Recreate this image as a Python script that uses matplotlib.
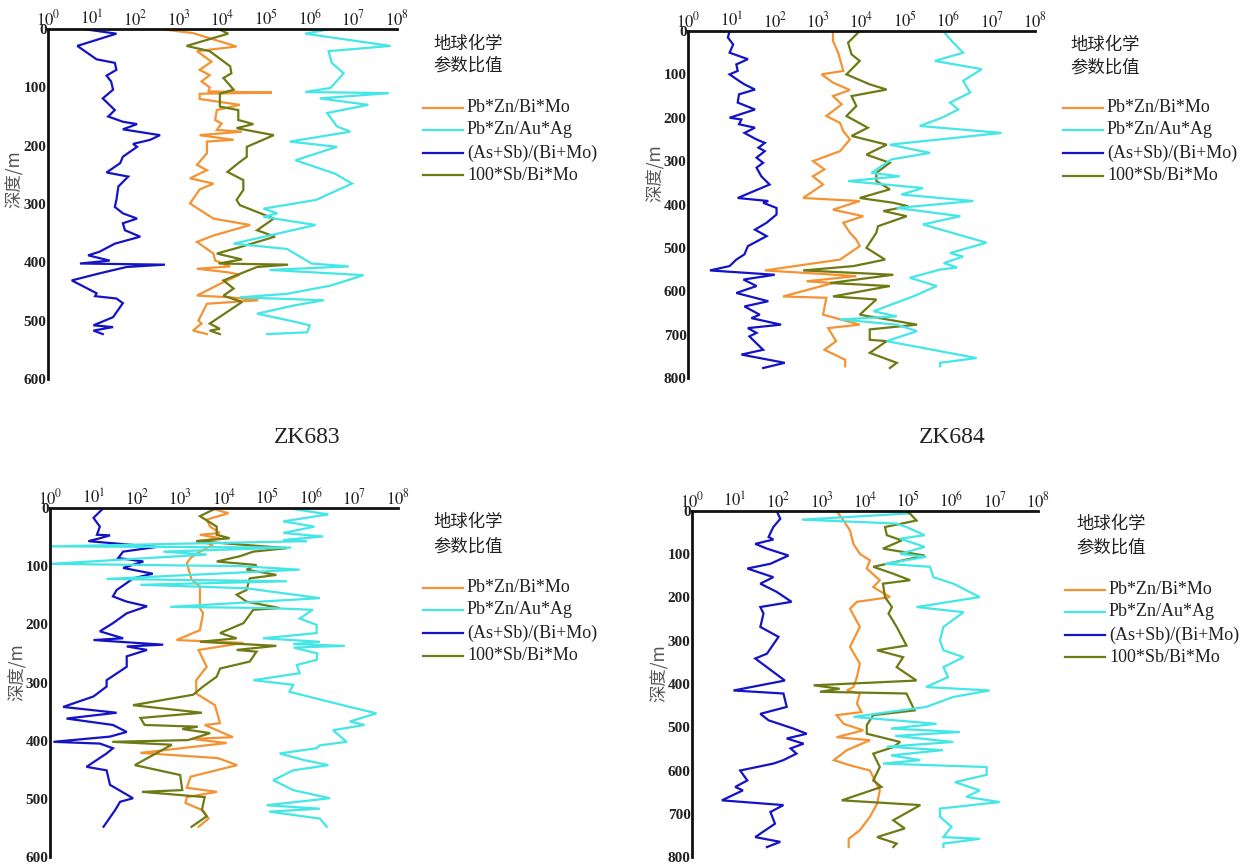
import matplotlib
matplotlib.use("Agg")
import matplotlib.pyplot as plt
from matplotlib.lines import Line2D
from matplotlib.ticker import FixedLocator, NullLocator

plt.rcParams['font.family'] = ['Liberation Serif', 'Noto Sans CJK SC', 'DejaVu Sans']
plt.rcParams['mathtext.fontset'] = 'stix'

# ---------------- data ----------------
series_names = ["Pb*Zn/Bi*Mo", "Pb*Zn/Au*Ag", "(As+Sb)/(Bi+Mo)", "100*Sb/Bi*Mo"]
legend_title = "地球化学\n参数比值"
y_label = "深度/m"
panel_titles = ["", "", "ZK683", "ZK684"]
x_tick_values = [1e0, 1e1, 1e2, 1e3, 1e4, 1e5, 1e6, 1e7, 1e8]
x_tick_labels = [r"$10^{0}$", r"$10^{1}$", r"$10^{2}$", r"$10^{3}$", r"$10^{4}$",
                 r"$10^{5}$", r"$10^{6}$", r"$10^{7}$", r"$10^{8}$"]
y_ticks_600 = [0, 100, 200, 300, 400, 500, 600]
y_ticks_800 = [0, 100, 200, 300, 400, 500, 600, 700, 800]

# ---- top-left panel ----
tl_blue_depth = [0, 8, 29, 52, 58, 70, 80, 90, 104, 119, 139, 150, 159, 163, 172, 182, 190, 197, 202, 219,
                 230, 246, 253, 270, 293, 305, 316, 325, 333, 345, 356, 368, 382, 388, 397, 402, 404, 408,
                 419, 431, 453, 458, 462, 470, 494, 508, 511, 517, 523]
tl_blue_val = [6.3, 37, 4.7, 13, 34, 37, 22, 28, 31, 18, 34, 24, 52, 110, 52, 370, 220, 89, 110, 52,
               45, 22, 69, 41, 37, 34, 52, 110, 52, 58, 130, 34, 15, 8.3, 26, 5.4, 480, 63,
               15, 3.5, 13, 12, 37, 52, 31, 11, 31, 11, 18]
tl_orange_depth = [0, 7, 30, 38, 56, 70, 79, 90, 100, 107, 109, 111, 120, 130, 139, 156, 162, 173, 176, 182,
                   190, 193, 213, 233, 242, 256, 265, 275, 299, 310, 325, 336, 354, 365, 385, 397, 407, 411,
                   417, 421, 437, 457, 460, 465, 471, 500, 505, 517, 523]
tl_orange_val = [370, 2100, 21000, 2600, 5600, 3000, 5100, 3300, 5100, 4800, 135000, 3000, 3000, 25000, 7400,
                 6800, 9500, 7400, 28000, 3000, 18000, 4400, 4400, 2600, 4400, 1800, 6200, 3000, 1800, 3000,
                 6200, 43000, 6200, 2600, 6200, 6800, 15000, 2600, 13000, 25000, 8700, 2600, 15000, 66000,
                 4400, 2800, 3300, 2100, 4400]
tl_olive_depth = [0, 8, 29, 38, 64, 76, 84, 104, 111, 133, 139, 156, 163, 170, 182, 202, 219, 230, 245, 259,
                  276, 293, 302, 325, 345, 356, 374, 385, 395, 402, 404, 408, 431, 445, 457, 468, 505, 514,
                  517, 523]
tl_olive_val = [8000, 13500, 1500, 5100, 15000, 16000, 10500, 18000, 8700, 8700, 23000, 23000, 51000, 21000,
                150000, 36000, 36000, 23000, 13000, 30000, 30000, 21000, 25000, 150000, 62000, 160000,
                25000, 7400, 28000, 8100, 320000, 62000, 10500, 18000, 10500, 28000, 5100, 8700, 5100, 8700]
tl_cyan_depth = [0, 8, 29, 38, 58, 76, 101, 108, 110, 119, 130, 144, 167, 176, 193, 202, 225, 248, 265, 293,
                 308, 316, 322, 336, 368, 377, 402, 407, 413, 422, 440, 454, 460, 465, 474, 488, 500, 508,
                 520, 523]
tl_cyan_val = [3.0e6, 7.9e5, 7.1e7, 2.7e6, 3.2e6, 6.0e6, 3.0e6, 7.9e5, 6.5e7, 1.7e6, 2.2e7, 2.5e6, 4.2e6,
               8.5e6, 3.5e5, 4.2e6, 4.7e5, 3.8e6, 9.3e6, 1.4e6, 8.7e4, 1.8e5, 8.7e4, 1.35e6, 1.8e4, 3.0e5,
               1.1e6, 7.8e6, 1.2e5, 1.7e7, 3.0e6, 3.0e5, 2.5e4, 2.1e6, 4.3e5, 6.2e4, 3.5e5, 1.0e6, 8.7e5,
               1.05e5]

# ---- top-right panel ----
tr_blue_depth = [0, 15, 31, 50, 65, 77, 92, 100, 115, 123, 135, 146, 165, 181, 200, 204, 215, 223, 235, 250,
                 258, 269, 277, 292, 304, 315, 335, 354, 385, 392, 396, 408, 423, 442, 458, 473, 496, 515,
                 527, 542, 552, 562, 573, 588, 604, 623, 635, 654, 662, 677, 685, 696, 704, 735, 746, 765,
                 777]
tr_blue_val = [9.1, 8.3, 11, 9.1, 24, 13, 14, 9.1, 15, 20, 35, 15, 14, 35, 9.1, 17, 15, 35, 20, 38,
               59, 42, 59, 38, 54, 38, 49, 76, 14, 71, 54, 110, 110, 65, 35, 65, 24, 20,
               13, 9.1, 3.2, 100, 19, 38, 13, 71, 20, 45, 29, 140, 24, 38, 26, 54, 17, 170, 54]
tr_orange_depth = [0, 23, 50, 92, 100, 119, 136, 150, 169, 196, 212, 231, 250, 277, 300, 319, 335, 354, 385,
                   392, 412, 427, 442, 465, 481, 496, 527, 552, 565, 577, 581, 612, 615, 654, 677, 685,
                   715, 735, 758, 773]
tr_orange_val = [2200, 2200, 2900, 3800, 1200, 2200, 5400, 2200, 3500, 1550, 3200, 3800, 5400, 3200, 760,
                 1400, 760, 1300, 450, 9100, 2200, 11000, 3800, 5400, 7600, 9100, 3200, 59, 7600, 540,
                 2200, 155, 1550, 1300, 9100, 1700, 2600, 1400, 4200, 4200]
tr_olive_depth = [0, 27, 54, 69, 100, 123, 135, 150, 173, 196, 223, 242, 262, 285, 304, 327, 346, 365, 385,
                  396, 404, 415, 427, 450, 465, 500, 527, 542, 552, 562, 581, 588, 612, 619, 654, 677, 688,
                  712, 715, 742, 765, 777]
tr_olive_val = [9100, 4900, 5900, 9100, 4500, 15500, 38000, 5900, 7600, 4500, 14000, 5900, 38000, 13000,
                45000, 22000, 22000, 45000, 9100, 54000, 120000, 32000, 110000, 24000, 22000, 13000, 35000,
                6500, 450, 54000, 1900, 45000, 2200, 22000, 9100, 190000, 15500, 15500, 38000, 15500, 65000,
                45000]
tr_cyan_depth = [0, 23, 50, 69, 88, 115, 142, 165, 181, 200, 219, 235, 262, 281, 296, 327, 335, 346, 362,
                 377, 392, 408, 427, 446, 488, 512, 520, 535, 545, 550, 569, 588, 612, 646, 658, 665, 677,
                 692, 715, 754, 765, 773]
tr_cyan_val = [7.6e5, 1.2e6, 2.2e6, 4.9e5, 5.9e6, 2.2e6, 3.2e6, 1.1e6, 1.7e6, 7.1e5, 2.2e5, 1.7e7, 4.5e4,
               3.8e5, 4.9e4, 1.7e4, 7.6e4, 4900, 2.6e5, 8.3e4, 3.8e6, 6.5e4, 1.9e6, 2.6e5, 7.6e6, 1.1e6,
               2.2e6, 7.9e5, 1.6e6, 6.5e5, 1.3e5, 5.4e5, 1.55e5, 1.9e4, 6.5e4, 3200, 6.5e4, 1.9e5, 3.8e4,
               4.5e6, 6.5e5, 6.5e5]

# ---- bottom-left panel (ZK683) ----
bl_blue_depth = [0, 17, 32, 46, 47, 52, 57, 67, 75, 86, 92, 103, 113, 121, 129, 141, 152, 161, 169, 181,
                 198, 212, 224, 227, 235, 238, 244, 255, 273, 296, 307, 324, 342, 352, 362, 373, 385, 393,
                 402, 405, 413, 422, 445, 451, 476, 499, 505, 520, 548]
bl_blue_val = [17, 10, 14, 12, 24, 14, 7.6, 280, 48, 37, 140, 48, 230, 81, 58, 34, 28, 58, 170, 58,
               28, 14, 48, 10, 400, 58, 170, 58, 58, 20, 20, 10, 2.0, 34, 2.4, 28, 58, 24,
               1.2, 14, 28, 20, 6.9, 20, 24, 81, 41, 31, 17]
bl_orange_depth = [0, 9, 20, 32, 43, 46, 52, 57, 63, 75, 86, 95, 123, 135, 172, 181, 210, 227, 232, 244,
                   273, 296, 319, 339, 370, 373, 394, 397, 404, 421, 430, 442, 462, 481, 488, 497, 507,
                   520, 534, 548]
bl_orange_val = [4800, 12600, 4000, 4800, 8100, 2800, 8100, 2300, 5600, 2800, 1700, 1400, 1800, 2800, 2800,
                 3300, 2800, 810, 28000, 2600, 4000, 2300, 2300, 6200, 8100, 3600, 16000, 1800, 11500,
                 120, 7200, 20000, 1700, 1400, 6900, 1400, 1300, 3300, 4400, 2600]
bl_olive_depth = [3, 14, 32, 46, 52, 57, 69, 75, 83, 92, 98, 106, 115, 121, 141, 149, 161, 172, 175, 198,
                  215, 224, 230, 237, 244, 247, 264, 276, 290, 307, 321, 339, 352, 361, 373, 376, 380, 387,
                  399, 402, 407, 442, 459, 485, 488, 497, 519, 530, 548]
bl_olive_val = [5600, 2800, 6800, 6800, 13500, 2300, 280000, 47000, 23000, 6800, 56000, 33000, 160000,
                39000, 33000, 19500, 33000, 190000, 47000, 28000, 8100, 19500, 2800, 160000, 19500, 56000,
                39000, 8100, 6800, 3300, 1950, 81, 3100, 120, 150, 2500, 1100, 4800, 1500, 27, 630, 89,
                980, 1100, 130, 3600, 3100, 4000, 1800]
bl_cyan_depth = [0, 11, 23, 32, 43, 49, 55, 57, 66, 68, 75, 80, 96, 100, 106, 122, 126, 132, 138, 155, 170,
                 172, 175, 190, 201, 215, 224, 230, 234, 237, 240, 250, 261, 270, 284, 296, 304, 316, 342,
                 353, 367, 373, 382, 402, 408, 413, 422, 433, 442, 451, 468, 485, 499, 511, 517, 522, 534,
                 548]
bl_cyan_val = [2.8e5, 2.5e6, 2.3e5, 1.2e6, 2.3e5, 1.9e6, 2.3e5, 7.9e5, 1.1, 3.5e5, 400, 4000, 1.07, 2.5e4,
               5.5e5, 20, 2.8e5, 120, 3.3e4, 1.6e6, 580, 1.1e5, 1.1e6, 5.5e5, 1.35e6, 1.35e6, 7.9e4, 1.6e6,
               3.9e5, 6.0e6, 4.0e5, 1.4e6, 1.35e6, 4.7e5, 5.5e5, 4.7e4, 3.9e5, 3.2e5, 7.8e6, 3.2e7, 7.8e6,
               1.7e7, 3.2e6, 6.6e6, 1.6e6, 1.35e6, 1.9e5, 6.6e5, 2.5e6, 3.9e5, 1.35e5, 3.9e5, 2.7e6,
               9.5e4, 1.6e6, 1.1e5, 1.6e6, 2.3e6]

# ---- bottom-right panel (ZK684) ----
br_blue_depth = [0, 18, 37, 60, 66, 76, 87, 103, 122, 133, 153, 168, 187, 210, 222, 237, 268, 291, 330, 341,
                 392, 415, 422, 453, 469, 484, 503, 515, 526, 538, 549, 561, 576, 584, 600, 623, 638, 646,
                 669, 680, 696, 723, 754, 765, 777]
br_blue_val = [91, 110, 76, 59, 76, 29, 54, 170, 65, 19, 76, 38, 91, 200, 38, 45, 38, 100, 54, 29,
               140, 9.1, 130, 155, 38, 59, 220, 450, 155, 380, 190, 260, 130, 76, 13, 19, 10, 15,
               4.9, 130, 65, 83, 29, 110, 54]
br_orange_depth = [0, 22, 45, 76, 99, 114, 133, 160, 176, 199, 210, 226, 268, 314, 353, 384, 407, 415, 422,
                   445, 465, 472, 492, 507, 523, 530, 553, 576, 588, 600, 646, 677, 707, 738, 758, 777]
br_orange_val = [2200, 3200, 4500, 5400, 7600, 13000, 11000, 22000, 15500, 38000, 6500, 4500, 7600, 4500,
                 7600, 6500, 5400, 3800, 7600, 6500, 8300, 2200, 3200, 9100, 2200, 13000, 3800, 1900, 4500,
                 13000, 22000, 19000, 13000, 7600, 4200, 4200]
br_olive_depth = [0, 6, 22, 37, 56, 68, 87, 103, 129, 145, 160, 168, 199, 222, 237, 268, 311, 322, 338, 361,
                  392, 403, 411, 418, 422, 461, 472, 495, 515, 534, 546, 561, 592, 623, 638, 669, 680, 715,
                  734, 754, 769, 777]
br_olive_val = [54000, 110000, 155000, 29000, 32000, 71000, 26000, 240000, 15500, 45000, 110000, 26000,
                29000, 42000, 35000, 54000, 91000, 19000, 76000, 54000, 155000, 650, 2600, 910, 91000,
                140000, 15500, 11000, 11000, 65000, 45000, 15500, 22000, 15500, 24000, 2900, 190000,
                45000, 83000, 19000, 54000, 45000]
br_cyan_depth = [6, 20, 29, 37, 56, 64, 83, 99, 106, 122, 129, 153, 168, 199, 222, 234, 268, 299, 322, 338,
                 361, 384, 407, 415, 430, 453, 476, 492, 503, 511, 520, 534, 545, 553, 565, 576, 584, 592,
                 610, 627, 646, 661, 673, 688, 707, 730, 754, 758, 769, 777]
br_cyan_val = [91000, 350, 54000, 91000, 240000, 65000, 240000, 65000, 260000, 29000, 320000, 380000,
               1.1e6, 4.5e6, 155000, 1.9e6, 650000, 540000, 650000, 1.9e6, 650000, 830000, 260000, 7.6e6,
               1.1e6, 260000, 5400, 450000, 40000, 1.55e6, 50000, 1.1e6, 32000, 630000, 40000, 190000,
               26000, 6.5e6, 6.5e6, 1.2e6, 4.5e6, 2.2e6, 1.3e7, 540000, 540000, 1.0e6, 650000, 4.5e6,
               650000, 650000]

# ---------------- styling ----------------
colors = {"orange": "#f39333", "cyan": "#45e6e6", "blue": "#1414c4", "olive": "#6e7a14"}
legend_colors = [colors["orange"], colors["cyan"], colors["blue"], colors["olive"]]

W, H = 1245, 866
fig = plt.figure(figsize=(W / 100, H / 100), dpi=100)


def fx(px):
    return px / W


def fy(py):
    return 1 - py / H


panels = [
    dict(box=(48, 29, 397, 379), ymax=600, yt=y_ticks_600,
         data=[(tl_blue_depth, tl_blue_val, "blue"), (tl_orange_depth, tl_orange_val, "orange"),
               (tl_olive_depth, tl_olive_val, "olive"), (tl_cyan_depth, tl_cyan_val, "cyan")],
         leg=(423, 433, 44, 66, [108, 130, 153, 175]), lab_y=0.57),
    dict(box=(688, 31, 1035, 378), ymax=800, yt=y_ticks_800,
         data=[(tr_blue_depth, tr_blue_val, "blue"), (tr_orange_depth, tr_orange_val, "orange"),
               (tr_olive_depth, tr_olive_val, "olive"), (tr_cyan_depth, tr_cyan_val, "cyan")],
         leg=(1063, 1070, 45, 68, [108, 130, 153, 176]), lab_y=0.59),
    dict(box=(50, 508, 398, 857), ymax=600, yt=y_ticks_600,
         data=[(bl_blue_depth, bl_blue_val, "blue"), (bl_orange_depth, bl_orange_val, "orange"),
               (bl_olive_depth, bl_olive_val, "olive"), (bl_cyan_depth, bl_cyan_val, "cyan")],
         leg=(423, 433, 522, 547, [588, 610, 633, 656]), lab_y=0.53),
    dict(box=(692, 511, 1038, 857), ymax=800, yt=y_ticks_800,
         data=[(br_blue_depth, br_blue_val, "blue"), (br_orange_depth, br_orange_val, "orange"),
               (br_olive_depth, br_olive_val, "olive"), (br_cyan_depth, br_cyan_val, "cyan")],
         leg=(1065, 1076, 524, 548, [590, 612, 635, 657]), lab_y=0.53),
]

for i, p in enumerate(panels):
    x0, y0, x1, y1 = p["box"]
    ax = fig.add_axes([fx(x0), fy(y1), (x1 - x0) / W, (y1 - y0) / H])
    for d, v, c in p["data"]:
        ax.plot(v, d, color=colors[c], lw=1.6, solid_joinstyle="miter")
    ax.set_xscale("log")
    ax.set_xlim(1e0, 1e8)
    ax.set_ylim(p["ymax"], 0)
    ax.xaxis.set_major_locator(FixedLocator(x_tick_values))
    ax.xaxis.set_minor_locator(NullLocator())
    ax.set_xticklabels(x_tick_labels, fontsize=12)
    ax.xaxis.tick_top()
    ax.set_yticks(p["yt"])
    ax.set_yticklabels([str(t) for t in p["yt"]], fontsize=11, fontweight="bold")
    ax.tick_params(axis="both", length=0, pad=1, colors="#222222")
    ax.tick_params(axis="x", pad=0)
    for s in ["right", "bottom"]:
        ax.spines[s].set_visible(False)
    for s in ["top", "left"]:
        ax.spines[s].set_linewidth(2.0)
        ax.spines[s].set_color("#111111")
    ax.patch.set_alpha(0)
    ax.set_ylabel(y_label, family=["Noto Sans CJK SC"], fontsize=12.5, color="#555555")
    ax.yaxis.set_label_coords(-0.068, p["lab_y"])

    lx, hx, hy1, hy2, rows = p["leg"]
    fig.text(fx(hx), fy(hy1), legend_title.split("\n")[0], family=["Noto Sans CJK SC"],
             fontsize=12.5, va="center", ha="left", color="#222222")
    fig.text(fx(hx), fy(hy2), legend_title.split("\n")[1], family=["Noto Sans CJK SC"],
             fontsize=12.5, va="center", ha="left", color="#222222")
    for name, col, ry in zip(series_names, legend_colors, rows):
        fig.add_artist(Line2D([fx(lx), fx(lx + 40)], [fy(ry), fy(ry)], color=col, lw=1.6,
                              transform=fig.transFigure))
        fig.text(fx(lx + 44), fy(ry), name, fontsize=13, va="center", ha="left", color="#222222")

fig.text(fx(307), fy(437), panel_titles[2], fontsize=17, ha="center", va="center", color="#222222")
fig.text(fx(952), fy(437), panel_titles[3], fontsize=17, ha="center", va="center", color="#222222")

fig.savefig("out.png", dpi=100, facecolor="white")
